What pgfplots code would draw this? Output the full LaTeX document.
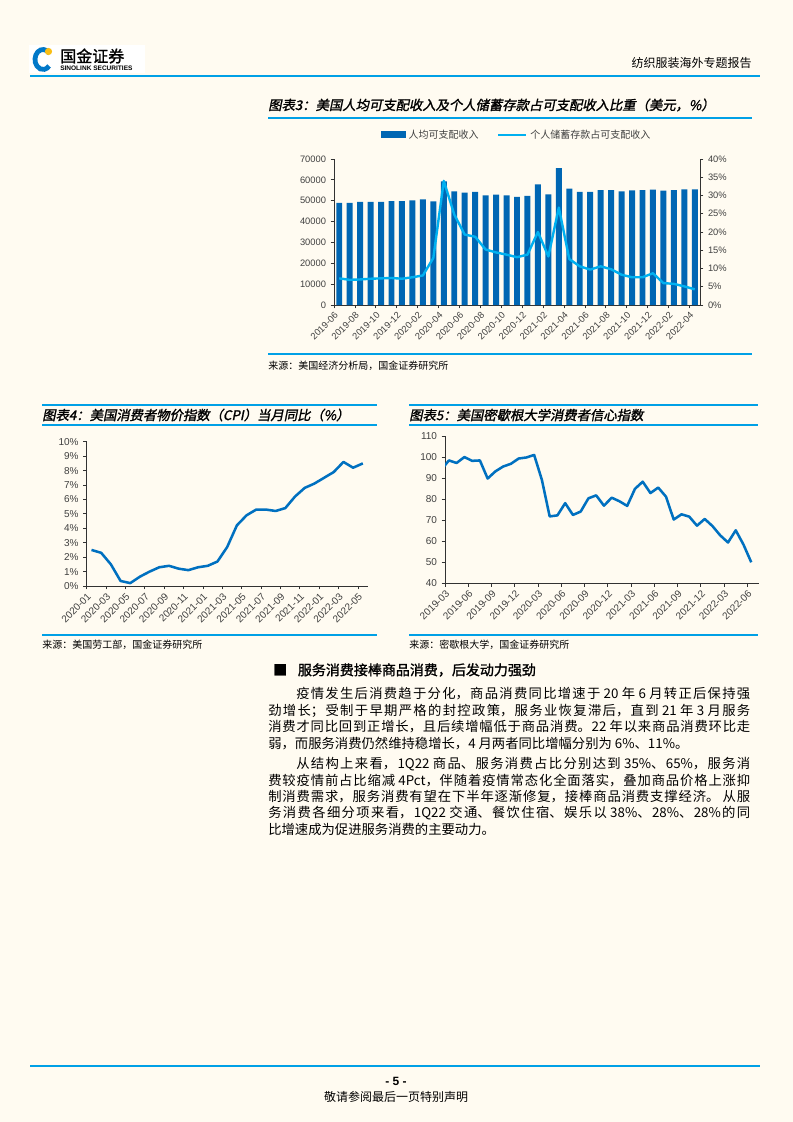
\documentclass[border=0pt]{standalone}
\usepackage{pgfplots}
\pgfplotsset{compat=1.18}
\usepackage{fontspec}
\setmainfont{Liberation Sans}
\newfontfamily\cjk{Noto Sans CJK SC}
\newfontfamily\cjkb[FakeBold=1.5]{Noto Sans CJK SC}
\newfontfamily\cjkt[FakeBold=1.5,FakeSlant=0.2]{Noto Sans CJK SC}
\definecolor{bg}{RGB}{255,251,241}
\definecolor{barblue}{RGB}{0,102,179}
\definecolor{lineblue}{RGB}{0,176,240}
\definecolor{cpiblue}{RGB}{0,112,192}
\definecolor{rule}{RGB}{0,160,230}
\definecolor{ticktext}{RGB}{64,64,64}
\definecolor{axisgray}{RGB}{50,50,50}
\definecolor{logoblue}{RGB}{0,120,200}
\definecolor{logoyellow}{RGB}{250,190,20}

\pgfplotsset{
  pagestyle/.style={
    scale only axis, anchor=south west,
    axis line style={draw=axisgray, line width=0.6pt},
    tick style={draw=axisgray, line width=0.6pt},
    major tick length=2.5pt, tick align=outside,
    tick label style={text=ticktext},
    /pgf/number format/assume math mode=true,
    /pgf/number format/1000 sep={},
    scaled y ticks=false,
    xticklabel style={rotate=45, anchor=north east, inner sep=1.5pt},
    clip=true,
  },
  barleg/.style={legend image code/.code={\fill[barblue] (0pt,-2.6pt) rectangle (18.75pt,2.6pt);}},
  lineleg/.style={legend image code/.code={\draw[lineblue,line width=1.8pt] (0pt,0pt) -- (21pt,0pt);}},
}

\newcommand\jl[4]{\node[anchor=west,inner sep=0pt] at (#1,#2) {\parbox{#3}{\cjk\fontsize{10}{12}\selectfont\XeTeXlinebreaklocale "zh"\XeTeXlinebreakskip=0pt plus 4pt\parfillskip=0pt\noindent #4}};}
\newcommand\lastl[3]{\node[anchor=west,inner sep=0pt] at (#1,#2) {\cjk\fontsize{10}{12}\selectfont #3};}

\begin{document}
\begin{tikzpicture}[x=0.75pt,y=0.75pt]
\fill[bg] (0,0) rectangle (793,-1122);

% ---------- header ----------
\fill[white] (29,-45) rectangle (145,-73);
\draw[logoblue,line width=3.6pt] (43,-59.5) ++(40:8 and 10) arc[start angle=40,end angle=320,x radius=8,y radius=10];
\fill[logoyellow] (48.5,-51.5) circle (3.6);
\node[anchor=west,inner sep=0pt] at (60,-56) {\cjkb\fontsize{12}{13}\selectfont 国金证券};
\node[anchor=west,inner sep=0pt] at (60,-68.5) {\bfseries\fontsize{4.9}{5}\selectfont SINOLINK SECURITIES};
\node[anchor=east,inner sep=0pt] at (752,-63) {\cjk\fontsize{9}{10}\selectfont 纺织服装海外专题报告};
\draw[rule,line width=1.2pt] (30,-76) -- (760,-76);

% ---------- chart 3 frame ----------
\node[anchor=west,inner sep=0pt] at (268,-105) {\cjkt\fontsize{10}{12}\selectfont 图表3：美国人均可支配收入及个人储蓄存款占可支配收入比重（美元，\%）};
\draw[rule,line width=1pt] (268,-118) -- (752,-118);
\draw[rule,line width=1pt] (268,-354) -- (752,-354);
\node[anchor=west,inner sep=0pt] at (268,-366) {\cjk\fontsize{7.5}{9}\selectfont 来源：美国经济分析局，国金证券研究所};

\begin{axis}[pagestyle, at={(250.5pt,-228.75pt)}, width=274.5pt, height=109.5pt,
  xmin=-0.5, xmax=34.5, ymin=0, ymax=70000,
  axis x line*=bottom, axis y line*=left,
  ytick={0,10000,...,70000},
  xtick={-0.5,1.5,...,33.5},
  xticklabels={2019-06,2019-08,2019-10,2019-12,2020-02,2020-04,2020-06,2020-08,2020-10,2020-12,2021-02,2021-04,2021-06,2021-08,2021-10,2021-12,2022-02,2022-04},
  tick label style={font=\fontsize{7}{8}\selectfont},
  legend style={at={(0.5,1.165)}, anchor=center, draw=none, fill=none, legend columns=2,
    font=\cjk\fontsize{7.5}{9}\selectfont, text=ticktext,
    /tikz/every even column/.append style={column sep=12pt}},
  legend cell align=left,
]
\addplot[ybar, bar width=0.57, fill=barblue, draw=none, barleg] coordinates {
(0,49000) (1,49000) (2,49400) (3,49500) (4,49500) (5,49800) (6,49800) (7,50200) (8,50600) (9,49700)
(10,59300) (11,54500) (12,53900) (13,54300) (14,52600) (15,52900) (16,52600) (17,51900) (18,52300) (19,57900)
(20,53100) (21,65600) (22,55800) (23,54300) (24,54300) (25,55100) (26,55100) (27,54500) (28,55000) (29,55100)
(30,55300) (31,54800) (32,55100) (33,55500) (34,55500)};
\addlegendentry{人均可支配收入}
\addlegendimage{lineleg}
\addlegendentry{个人储蓄存款占可支配收入}
\end{axis}
\begin{axis}[pagestyle, at={(250.5pt,-228.75pt)}, width=274.5pt, height=109.5pt,
  xmin=-0.5, xmax=34.5, ymin=0, ymax=40,
  axis x line=none, axis y line*=right,
  ytick={0,5,...,40}, yticklabel={\pgfmathprintnumber{\tick}\%},
  tick label style={font=\fontsize{7}{8}\selectfont},
]
\addplot[lineblue, line width=1.8pt, line join=round, mark=none] coordinates {
(0,7.3) (1,6.9) (2,7.0) (3,7.2) (4,7.3) (5,7.4) (6,7.2) (7,7.6) (8,8.1) (9,12.9)
(10,34.0) (11,24.8) (12,19.3) (13,18.7) (14,15.2) (15,14.4) (16,13.8) (17,13.1) (18,13.8) (19,20.0)
(20,13.3) (21,26.7) (22,12.6) (23,10.6) (24,9.7) (25,10.6) (26,9.8) (27,8.3) (28,7.6) (29,7.6)
(30,8.7) (31,6.0) (32,5.8) (33,5.1) (34,4.3)};
\end{axis}

% ---------- chart 4 ----------
\draw[rule,line width=1pt] (42,-405) -- (377,-405);
\node[anchor=west,inner sep=0pt] at (42,-415) {\cjkt\fontsize{10}{12}\selectfont 图表4：美国消费者物价指数（CPI）当月同比（\%）};
\draw[rule,line width=1pt] (42,-425) -- (377,-425);
\draw[rule,line width=1pt] (42,-635) -- (377,-635);
\node[anchor=west,inner sep=0pt] at (42,-645) {\cjk\fontsize{7.5}{9}\selectfont 来源：美国劳工部，国金证券研究所};

\begin{axis}[pagestyle, at={(65pt,-439.5pt)}, width=210.75pt, height=108.2pt,
  xmin=-0.5, xmax=28.5, ymin=0, ymax=10,
  axis x line*=bottom, axis y line*=left,
  ytick={0,1,...,10}, yticklabel={\pgfmathprintnumber{\tick}\%},
  xtick={-0.5,1.5,...,27.5},
  xticklabels={2020-01,2020-03,2020-05,2020-07,2020-09,2020-11,2021-01,2021-03,2021-05,2021-07,2021-09,2021-11,2022-01,2022-03,2022-05},
  tick label style={font=\fontsize{7.5}{8.5}\selectfont},
]
\addplot[cpiblue, line width=1.9pt, line join=round, mark=none] coordinates {
(0,2.5) (1,2.3) (2,1.5) (3,0.35) (4,0.2) (5,0.65) (6,1.0) (7,1.3) (8,1.4) (9,1.2)
(10,1.1) (11,1.3) (12,1.4) (13,1.7) (14,2.7) (15,4.2) (16,4.9) (17,5.3) (18,5.3) (19,5.2)
(20,5.4) (21,6.2) (22,6.8) (23,7.1) (24,7.5) (25,7.9) (26,8.6) (27,8.2) (28,8.5)};
\end{axis}

% ---------- chart 5 ----------
\draw[rule,line width=1pt] (409,-405) -- (758,-405);
\node[anchor=west,inner sep=0pt] at (409,-415) {\cjkt\fontsize{10}{12}\selectfont 图表5：美国密歇根大学消费者信心指数};
\draw[rule,line width=1pt] (409,-425) -- (758,-425);
\draw[rule,line width=1pt] (409,-635) -- (758,-635);
\node[anchor=west,inner sep=0pt] at (409,-645) {\cjk\fontsize{7.5}{9}\selectfont 来源：密歇根大学，国金证券研究所};

\begin{axis}[pagestyle, at={(333.75pt,-437.5pt)}, width=235.5pt, height=110.5pt,
  xmin=-0.5, xmax=40, ymin=40, ymax=110,
  axis x line*=bottom, axis y line*=left,
  ytick={40,50,...,110},
  xtick={-0.5,2.5,...,38.5},
  xticklabels={2019-03,2019-06,2019-09,2019-12,2020-03,2020-06,2020-09,2020-12,2021-03,2021-06,2021-09,2021-12,2022-03,2022-06},
  tick label style={font=\fontsize{7.5}{8.5}\selectfont},
]
\addplot[cpiblue, line width=1.9pt, line join=round, mark=none] coordinates {
(-1,93.8) (0,98.4) (1,97.2) (2,100.0) (3,98.2) (4,98.4) (5,89.8) (6,93.2) (7,95.5) (8,96.8) (9,99.3)
(10,99.8) (11,101.0) (12,89.1) (13,71.8) (14,72.3) (15,78.1) (16,72.5) (17,74.1) (18,80.4) (19,81.8)
(20,76.9) (21,80.7) (22,79.0) (23,76.8) (24,84.9) (25,88.3) (26,82.9) (27,85.5) (28,81.2) (29,70.3)
(30,72.8) (31,71.7) (32,67.4) (33,70.6) (34,67.2) (35,62.8) (36,59.4) (37,65.2) (38,58.4) (39,50.0)};
\end{axis}

% ---------- body text ----------
\node[anchor=west,inner sep=0pt] at (273,-670) {\cjkb\fontsize{10.5}{12}\selectfont ■\hspace{8pt}服务消费接棒商品消费，后发动力强劲};
\jl{296}{-694}{340.5pt}{疫情发生后消费趋于分化，商品消费同比增速于 20 年 6 月转正后保持强}
\jl{268}{-710.5}{361.5pt}{劲增长；受制于早期严格的封控政策，服务业恢复滞后，直到 21 年 3 月服务}
\jl{268}{-727}{361.5pt}{消费才同比回到正增长，且后续增幅低于商品消费。22 年以来商品消费环比走}
\lastl{268}{-743.5}{弱，而服务消费仍然维持稳增长，4 月两者同比增幅分别为 6\%、11\%。}
\jl{296}{-764.5}{340.5pt}{从结构上来看，1Q22 商品、服务消费占比分别达到 35\%、65\%，服务消}
\jl{268}{-780.5}{361.5pt}{费较疫情前占比缩减 4Pct，伴随着疫情常态化全面落实，叠加商品价格上涨抑}
\jl{268}{-797}{361.5pt}{制消费需求，服务消费有望在下半年逐渐修复，接棒商品消费支撑经济。 从服}
\jl{268}{-813}{361.5pt}{务消费各细分项来看，1Q22 交通、餐饮住宿、娱乐以 38\%、28\%、28\%的同}
\lastl{268}{-829}{比增速成为促进服务消费的主要动力。}

% ---------- footer ----------
\draw[rule,line width=1.2pt] (30,-1066) -- (760,-1066);
\node[inner sep=0pt] at (396,-1081) {\bfseries\fontsize{9}{10}\selectfont - 5 -};
\node[inner sep=0pt] at (396,-1097) {\cjk\fontsize{9}{10}\selectfont 敬请参阅最后一页特别声明};
\end{tikzpicture}
\end{document}
